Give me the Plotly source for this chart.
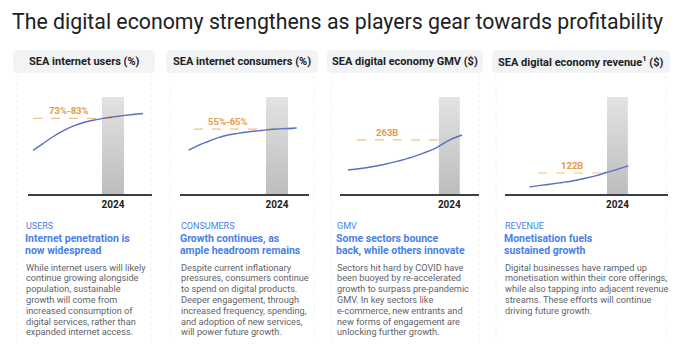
import plotly.graph_objects as go

W, H = 680, 346

# ---------------- data ----------------
main_title = "The digital economy strengthens as players gear towards profitability"
panel_titles = ["SEA internet users (%)", "SEA internet consumers (%)",
                "SEA digital economy GMV ($)", "SEA digital economy revenue<sup>1</sup> ($)"]
highlight_year = 2024

years_users = list(range(2016, 2028))
users_pct = [45, 52, 59, 65, 70, 73.5, 76, 78, 79.5, 80.8, 82, 83]

years_consumers = list(range(2015, 2027))
consumers_pct = [40.6, 45, 48.5, 52, 54.5, 56, 57.3, 58.3, 59.2, 60, 60.5, 61]

years_gmv = list(range(2016, 2026))
gmv_bn = [117, 124, 134, 146, 161, 178, 200, 226, 262, 287]

years_revenue = list(range(2016, 2026))
revenue_bn = [41, 50, 58, 67, 77, 90, 105, 125, 143, 163]

ref_levels = [78, 60, 263, 122]
ref_labels = ["73%-83%", "55%-65%", "263B", "122B"]

kickers = ["USERS", "CONSUMERS", "GMV", "REVENUE"]
headlines = [["Internet penetration is", "now widespread"],
             ["Growth continues, as", "ample headroom remains"],
             ["Some sectors bounce", "back, while others innovate"],
             ["Monetisation fuels", "sustained growth"]]
bodies = [
    ["While internet users will likely", "continue growing alongside", "population, sustainable",
     "growth will come from", "increased consumption of", "digital services, rather than",
     "expanded internet access."],
    ["Despite current inflationary", "pressures, consumers continue", "to spend on digital products.",
     "Deeper engagement, through", "increased frequency, spending,", "and adoption of new services,",
     "will power future growth."],
    ["Sectors hit hard by COVID have", "been buoyed by re-accelerated", "growth to surpass pre-pandemic",
     "GMV. In key sectors like", "e-commerce, new entrants and", "new forms of engagement are",
     "unlocking further growth."],
    ["Digital businesses have ramped up", "monetisation within their core offerings,",
     "while also tapping into adjacent revenue", "streams. These efforts will continue",
     "driving future growth."],
]

series_x = [years_users, years_consumers, years_gmv, years_revenue]
series_y = [users_pct, consumers_pct, gmv_bn, revenue_bn]

# ---------------- layout helpers ----------------
def px(x):
    return x / W

def py(y):
    return 1 - y / H

axis_px = [(28, 152), (180, 309), (340, 479), (505, 668)]
x_ranges = [(2015.5, 2027.9), (2014.12, 2027.26), (2015.37, 2026.34), (2013.77, 2028.6)]
y_tops = [100, 89.6, 472, 563]
band_w = [2.2, 2.24, 1.65, 1.9]
dash_x = [(2016, 2024), (2015.55, 2025.8), (2016.7, 2023.4), (2016.77, 2023.5)]
label_x = [2019.6, 2019.0, 2019.1, 2019.86]
box_px = [(13, 155), (166, 318), (327, 483), (492, 670)]
text_x = [24, 179, 335, 503]
plot_y = (97, 194)

FONT = "Roboto"
DARK = "#202124"
GREY = "#5f6368"
BLUE = "#4a7fe8"
ORANGE = "#e69a45"
DASH = "#f6c07e"
LINE = "#5a6fc0"

fig = go.Figure()
layout = dict(
    width=W, height=H, margin=dict(l=0, r=0, t=0, b=0),
    paper_bgcolor="white", plot_bgcolor="rgba(0,0,0,0)",
    showlegend=False, font=dict(family=FONT, color=DARK),
)
shapes = []
annotations = []

def rounded_rect(x0, y0, x1, y1, r):
    def P(x, y):
        return f"{px(x):.5f},{py(y):.5f}"
    return (f"M {P(x0 + r, y0)} L {P(x1 - r, y0)} Q {P(x1, y0)} {P(x1, y0 + r)} "
            f"L {P(x1, y1 - r)} Q {P(x1, y1)} {P(x1 - r, y1)} L {P(x0 + r, y1)} "
            f"Q {P(x0, y1)} {P(x0, y1 - r)} L {P(x0, y0 + r)} Q {P(x0, y0)} {P(x0 + r, y0)} Z")

for i in range(4):
    ax = "" if i == 0 else str(i + 1)
    xa, ya = "x" + ax, "y" + ax
    xs, ys = series_x[i], series_y[i]

    b0 = highlight_year - band_w[i] / 2
    b1 = highlight_year + band_w[i] / 2
    fig.add_trace(go.Scatter(
        x=[b0, b0, b1, b1, b0], y=[0, y_tops[i], y_tops[i], 0, 0],
        mode="lines", line=dict(width=0), fill="toself",
        fillgradient=dict(type="vertical", colorscale=[[0, "#bdbdbd"], [1, "#e3e3e3"]]),
        xaxis=xa, yaxis=ya, hoverinfo="skip"))
    fig.add_trace(go.Scatter(
        x=list(dash_x[i]), y=[ref_levels[i], ref_levels[i]], mode="lines",
        line=dict(color=DASH, width=1.2, dash="dash"), xaxis=xa, yaxis=ya, hoverinfo="skip"))
    fig.add_trace(go.Scatter(
        x=xs, y=ys, mode="lines", line=dict(color=LINE, width=1.4, shape="spline", smoothing=1.0),
        xaxis=xa, yaxis=ya))
    annotations.append(dict(
        x=label_x[i], y=ref_levels[i], xref=xa, yref=ya, text=f"<b>{ref_labels[i]}</b>",
        showarrow=False, yanchor="bottom", yshift=0,
        font=dict(family=FONT, size=9.5, color=ORANGE)))

    layout["xaxis" + ax] = dict(
        domain=[px(axis_px[i][0]), px(axis_px[i][1])], range=list(x_ranges[i]),
        showgrid=False, zeroline=False, showline=True, linecolor="#3c4043", linewidth=1.5,
        tickmode="array", tickvals=[highlight_year], ticktext=[f"<b>{highlight_year}</b>"],
        ticks="", tickfont=dict(family=FONT, size=10, color=DARK), anchor=ya, fixedrange=True)
    layout["yaxis" + ax] = dict(
        domain=[py(plot_y[1]), py(plot_y[0])], range=[0, y_tops[i]],
        visible=False, anchor=xa, fixedrange=True)

    bx0, bx1 = box_px[i]
    shapes.append(dict(type="path", xref="paper", yref="paper",
                       path=rounded_rect(bx0, 50, bx1, 73, 5),
                       fillcolor="#f1f3f4", line=dict(width=0), layer="below"))
    annotations.append(dict(x=px((bx0 + bx1) / 2), y=py(62), xref="paper", yref="paper",
                            text=f"<b>{panel_titles[i]}</b>", showarrow=False,
                            xanchor="center", yanchor="middle",
                            font=dict(family=FONT, size=11, color=DARK)))
    for ex in (bx0 + 4, bx1 - 4):
        shapes.append(dict(type="line", xref="paper", yref="paper",
                           x0=px(ex), x1=px(ex), y0=py(76), y1=py(342),
                           line=dict(color="#f0f0f0", width=1, dash="dot"), layer="below"))

    tx = px(text_x[i])
    annotations.append(dict(x=tx, y=py(226), xref="paper", yref="paper", text=kickers[i],
                            showarrow=False, xanchor="left", yanchor="middle",
                            font=dict(family=FONT, size=9, color=BLUE)))
    for k, hl in enumerate(headlines[i]):
        annotations.append(dict(x=tx, y=py(238.5 + 12 * k), xref="paper", yref="paper",
                                text=f"<b>{hl}</b>", showarrow=False, xanchor="left",
                                yanchor="middle", borderpad=0,
                                font=dict(family=FONT, size=10.5, color=BLUE)))
    for k, line in enumerate(bodies[i]):
        annotations.append(dict(x=tx, y=py(267 + 10.8 * k), xref="paper", yref="paper",
                                text=line, showarrow=False, xanchor="left", yanchor="middle",
                                font=dict(family=FONT, size=9.2, color=GREY)))

annotations.append(dict(x=px(10), y=py(21), xref="paper", yref="paper", text=main_title,
                        showarrow=False, xanchor="left", yanchor="middle",
                        font=dict(family=FONT, size=21.3, color=DARK)))

layout["shapes"] = shapes
layout["annotations"] = annotations
fig.update_layout(**layout)
fig.write_html("out.html")
